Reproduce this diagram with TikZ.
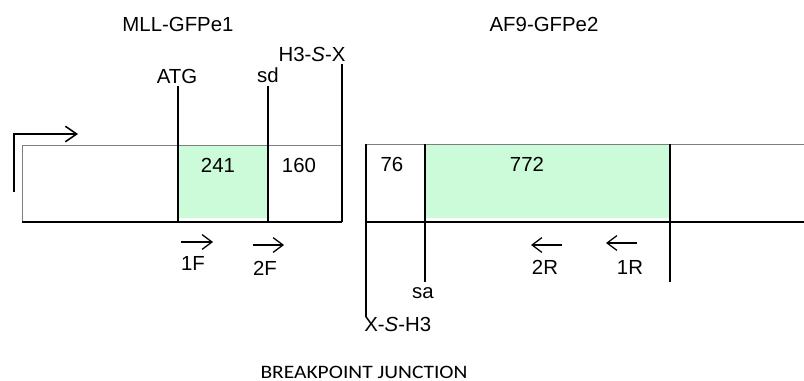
\documentclass[tikz,border=0pt]{standalone}
\usepackage{fontspec}
\setmainfont{Liberation Sans}
\newfontfamily\capfont{Carlito}
\usepackage{xcolor}
\usetikzlibrary{arrows.meta, positioning}

\definecolor{exongreen}{HTML}{CCFBD9}
\definecolor{boxgray}{HTML}{7F7F7F}

\begin{document}
\begin{tikzpicture}[
    x=0.025cm, y=-0.025cm,
    lbl/.style={font=\fontsize{14.5}{16}\selectfont, inner sep=0pt, anchor=base},
    site/.style={line width=1.2pt},
    primer/.style={-{Straight Barb[length=7pt, width=10.5pt]}, line width=0.9pt},
    promo/.style={-{Straight Barb[length=8pt, width=11pt]}, line width=1.1pt}
]
\useasboundingbox (0,0) rectangle (804,381);

% MLL exon 1 region
\fill[exongreen] (178,145) rectangle (268,218);
\draw[boxgray, line width=0.7pt] (22,222) -- (22,145) -- (342,145);
\draw[line width=0.8pt] (22,222) -- (342,222);
\draw[site] (178,86) coordinate (atg) -- (178,222);
\draw[site] (268,86) coordinate (sd) -- (268,222);
\draw[site] (342,64) coordinate (hsx) -- (342,222);

% promoter
\coordinate (p0) at (14,192);
\coordinate (p1) at (14,134);
\coordinate (p2) at (78,134);
\draw[promo] (p0) -- (p1) -- (p2);

% AF9 exon 2 region
\fill[exongreen] (426,144) rectangle (670,218);
\draw[boxgray, line width=0.7pt] (367,144) -- (804,144);
\draw[line width=0.8pt] (367,222) -- (804,222);
\draw[line width=1.4pt] (366,144) -- (366,317) coordinate (xsh);
\draw[site] (425,144) -- (425,282) coordinate (sa);
\draw[site] (670,144) -- (670,282);

% labels
\node[lbl] (mll)  at (178,32)  {MLL-GFPe1};
\node[lbl] (af9)  at (544,32)  {AF9-GFPe2};
\node[lbl] (hsxl) at (312,62)  {H3-\textit{S}-X};
\node[lbl] (atgl) at (177,84)  {ATG};
\node[lbl] (sdl)  at (268,83)  {sd};
\node[lbl] (n241) at (218,173) {241};
\node[lbl] (n160) at (299,173) {160};
\node[lbl] (n76)  at (392,172) {76};
\node[lbl] (n772) at (527,172) {772};
\node[lbl] (sal)  at (423,298) {sa};
\node[lbl, anchor=base west] (xshl) at (364,331) {X-\textit{S}-H3};

% primers
\coordinate (f1a) at (181,242);
\coordinate (f1b) at (213,242);
\coordinate (f2a) at (253,245);
\coordinate (f2b) at (284,245);
\coordinate (r2a) at (562,245);
\coordinate (r2b) at (531,245);
\coordinate (r1a) at (637,243);
\coordinate (r1b) at (606,243);
\draw[primer] (f1a) -- (f1b);
\draw[primer] (f2a) -- (f2b);
\draw[primer] (r2a) -- (r2b);
\draw[primer] (r1a) -- (r1b);
\node[lbl] (p1f) at (193,270) {1F};
\node[lbl] (p2f) at (265,275) {2F};
\node[lbl] (p2r) at (545,274) {2R};
\node[lbl] (p1r) at (630,274) {1R};

\node[anchor=base, inner sep=0pt, font=\capfont\fontsize{13.5}{15}\selectfont]
  (junc) at (364,378) {\scalebox{1.13}[1]{BREAKPOINT JUNCTION}};
\end{tikzpicture}
\end{document}
